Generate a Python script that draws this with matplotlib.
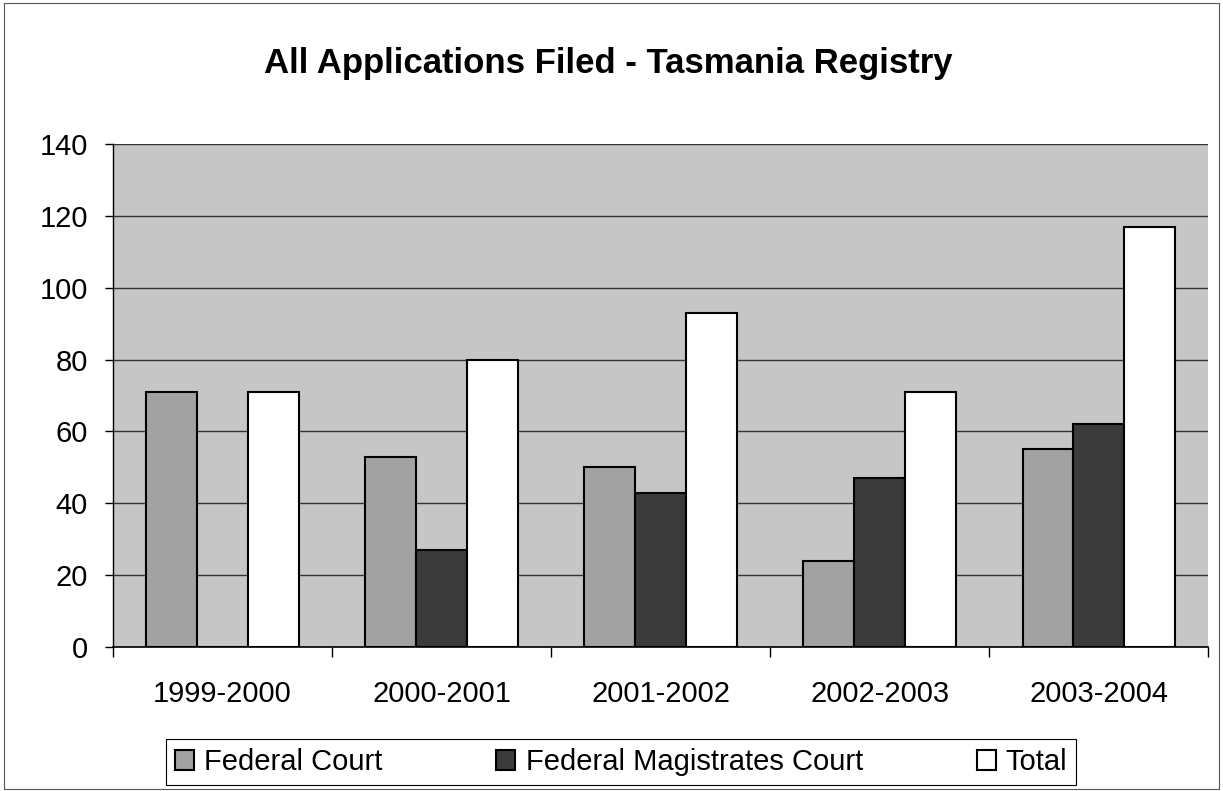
import matplotlib
matplotlib.use('Agg')
import matplotlib.pyplot as plt
import numpy as np
from matplotlib.patches import Rectangle

plt.rcParams['font.family'] = ['Liberation Sans', 'DejaVu Sans']

years = ['1999-2000', '2000-2001', '2001-2002', '2002-2003', '2003-2004']
federal_court = [71, 53, 50, 24, 55]
magistrates_court = [0, 27, 43, 47, 62]
total = [71, 80, 93, 71, 117]
series_names = ['Federal Court', 'Federal Magistrates Court', 'Total']

fig = plt.figure(figsize=(12.23, 7.91), dpi=100)
# cadre autour du graphique
fig.patches.append(Rectangle((0.003, 0.003), 0.994, 0.993, transform=fig.transFigure,
                             fill=False, edgecolor='#555555', linewidth=0.8))

ax = fig.add_axes([0.0924, 0.182, 0.8956, 0.636])
ax.set_facecolor('#c6c6c6')

x = np.arange(len(years))
w = 0.232
ax.bar(x - w, federal_court, w, color='#a2a2a2', edgecolor='black', linewidth=1.5,
       label=series_names[0], zorder=3)
ax.bar(x, magistrates_court, w, color='#3a3a3a', edgecolor='black', linewidth=1.5,
       label=series_names[1], zorder=3)
ax.bar(x + w, total, w, color='white', edgecolor='black', linewidth=1.5,
       label=series_names[2], zorder=3)

ax.set_ylim(0, 140)
ax.set_yticks(np.arange(0, 141, 20))
ax.set_xlim(-0.5, len(years) - 0.5)
ax.set_xticks(x)
ax.set_xticklabels(years)
ax.set_xticks(np.arange(-0.5, len(years), 1), minor=True)
ax.tick_params(axis='x', which='major', length=0, pad=24, labelsize=21)
ax.tick_params(axis='x', which='minor', length=7, width=1, direction='out')
ax.tick_params(axis='y', length=6, width=1, direction='out', pad=12, labelsize=21)

ax.yaxis.grid(True, color='#333333', linewidth=1.0, zorder=1)
ax.set_axisbelow(True)
for s in ['top', 'right']:
    ax.spines[s].set_visible(False)
ax.spines['left'].set_linewidth(1.0)
ax.spines['bottom'].set_linewidth(1.2)

fig.text(0.497, 0.92, 'All Applications Filed - Tasmania Registry', ha='center',
         va='center', fontsize=25, fontweight='bold')

leg = fig.legend(loc='center', bbox_to_anchor=(0.508, 0.0365), ncol=3, fontsize=21,
                 frameon=True, fancybox=False, edgecolor='black', framealpha=1,
                 handlelength=0.65, handleheight=0.65, handletextpad=0.35,
                 columnspacing=3.9, borderpad=0.3, borderaxespad=0)
leg.get_frame().set_linewidth(0.8)

fig.savefig('out.png', dpi=100)
